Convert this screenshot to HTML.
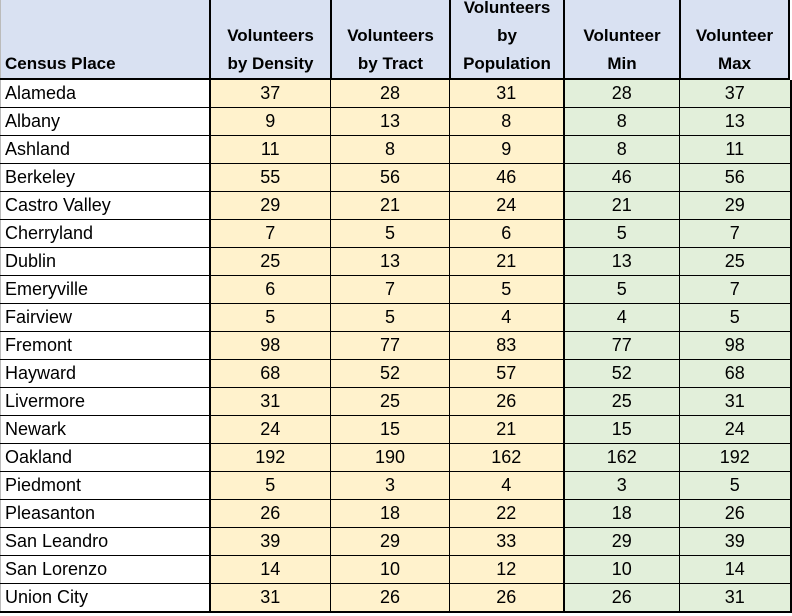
<!DOCTYPE html>
<html><head><meta charset="utf-8"><style>
body{margin:0;width:792px;height:616px;background:#fff;overflow:hidden;font-family:"Liberation Sans",Arial,sans-serif;}
#hd{position:absolute;left:0;top:0;width:790px;height:78px;background:#D9E1F2;border-bottom:2px solid #000;overflow:hidden}
.h{position:absolute;top:0;height:78px;border-right:2px solid #000;box-sizing:border-box;overflow:hidden}
.h div{position:absolute;left:0;right:0;bottom:0;text-align:center;font-weight:bold;font-size:17px;line-height:28px}
table{position:absolute;left:0;top:80px;border-collapse:collapse;table-layout:fixed;}
td{padding:0;font-size:18px;color:#000;overflow:hidden;white-space:nowrap;height:27px;border:1px solid #000;text-align:center;background:#FFF2CC}
tr:first-child td{border-top:none}
td.f{text-align:left;padding-left:4px;background:#fff;border-left:1px solid #bbb;border-right:2px solid #000}
td.g{background:#E2EFDA}
td.l{border-right:2px solid #000}
tr:last-child td{border-bottom:2px solid #000}
</style></head><body>
<div id="hd">
<div class="h" style="left:0;width:211px;border-left:1px solid #bbb"><div style="text-align:left;padding-left:4px">Census Place</div></div>
<div class="h" style="left:211px;width:121px"><div>Volunteers<br>by Density</div></div>
<div class="h" style="left:332px;width:119px"><div>Volunteers<br>by Tract</div></div>
<div class="h" style="left:451px;width:114px"><div>Volunteers<br>by<br>Population</div></div>
<div class="h" style="left:565px;width:116px"><div>Volunteer<br>Min</div></div>
<div class="h" style="left:681px;width:109px"><div>Volunteer<br>Max</div></div>
</div>
<table>
<colgroup><col style="width:209px"><col style="width:121px"><col style="width:119px"><col style="width:114px"><col style="width:116px"><col style="width:111px"></colgroup>
<tr><td class="f">Alameda</td><td>37</td><td>28</td><td class="l">31</td><td class="g">28</td><td class="g l">37</td></tr>
<tr><td class="f">Albany</td><td>9</td><td>13</td><td class="l">8</td><td class="g">8</td><td class="g l">13</td></tr>
<tr><td class="f">Ashland</td><td>11</td><td>8</td><td class="l">9</td><td class="g">8</td><td class="g l">11</td></tr>
<tr><td class="f">Berkeley</td><td>55</td><td>56</td><td class="l">46</td><td class="g">46</td><td class="g l">56</td></tr>
<tr><td class="f">Castro Valley</td><td>29</td><td>21</td><td class="l">24</td><td class="g">21</td><td class="g l">29</td></tr>
<tr><td class="f">Cherryland</td><td>7</td><td>5</td><td class="l">6</td><td class="g">5</td><td class="g l">7</td></tr>
<tr><td class="f">Dublin</td><td>25</td><td>13</td><td class="l">21</td><td class="g">13</td><td class="g l">25</td></tr>
<tr><td class="f">Emeryville</td><td>6</td><td>7</td><td class="l">5</td><td class="g">5</td><td class="g l">7</td></tr>
<tr><td class="f">Fairview</td><td>5</td><td>5</td><td class="l">4</td><td class="g">4</td><td class="g l">5</td></tr>
<tr><td class="f">Fremont</td><td>98</td><td>77</td><td class="l">83</td><td class="g">77</td><td class="g l">98</td></tr>
<tr><td class="f">Hayward</td><td>68</td><td>52</td><td class="l">57</td><td class="g">52</td><td class="g l">68</td></tr>
<tr><td class="f">Livermore</td><td>31</td><td>25</td><td class="l">26</td><td class="g">25</td><td class="g l">31</td></tr>
<tr><td class="f">Newark</td><td>24</td><td>15</td><td class="l">21</td><td class="g">15</td><td class="g l">24</td></tr>
<tr><td class="f">Oakland</td><td>192</td><td>190</td><td class="l">162</td><td class="g">162</td><td class="g l">192</td></tr>
<tr><td class="f">Piedmont</td><td>5</td><td>3</td><td class="l">4</td><td class="g">3</td><td class="g l">5</td></tr>
<tr><td class="f">Pleasanton</td><td>26</td><td>18</td><td class="l">22</td><td class="g">18</td><td class="g l">26</td></tr>
<tr><td class="f">San Leandro</td><td>39</td><td>29</td><td class="l">33</td><td class="g">29</td><td class="g l">39</td></tr>
<tr><td class="f">San Lorenzo</td><td>14</td><td>10</td><td class="l">12</td><td class="g">10</td><td class="g l">14</td></tr>
<tr><td class="f">Union City</td><td>31</td><td>26</td><td class="l">26</td><td class="g">26</td><td class="g l">31</td></tr>
</table>
</body></html>
